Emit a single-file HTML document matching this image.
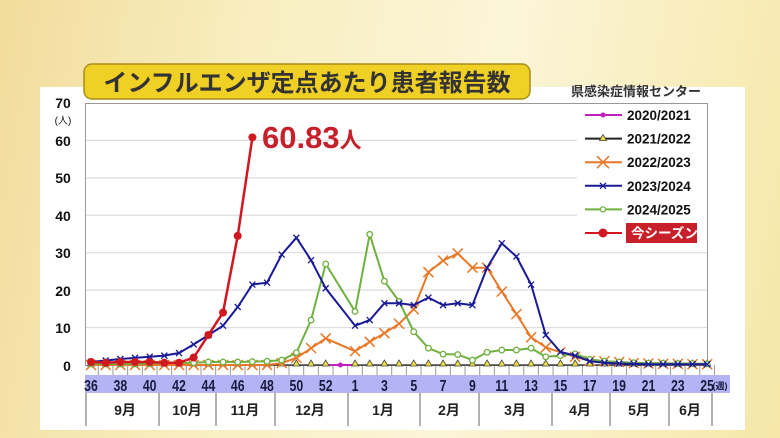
<!DOCTYPE html>
<html><head><meta charset="utf-8"><style>
html,body{margin:0;padding:0;width:780px;height:438px;overflow:hidden}
body{background:linear-gradient(100deg,#f2dc9c 0%,#f8eec0 30%,#fbf5d8 60%,#f6e7a8 100%);font-family:"Liberation Sans","Noto Sans CJK JP",sans-serif}
</style></head><body>
<svg width="780" height="438" viewBox="0 0 780 438" xmlns="http://www.w3.org/2000/svg" style="position:absolute;left:0;top:0" font-family="Liberation Sans, Noto Sans CJK JP, sans-serif">
<rect x="40" y="87" width="705" height="343" fill="#fff"/>
<g id="grid" stroke="#d8d8d8" stroke-width="1"></g>
<rect x="85.5" y="103.5" width="622" height="262" fill="none" stroke="#999"/>
<rect x="577" y="104" width="130" height="140" fill="#fff"/>
<g font-size="14" font-weight="bold" fill="#111" text-anchor="middle">
<text x="63" y="108">70</text><text x="63" y="124" font-size="10" font-weight="normal">(人)</text>
<text x="63" y="146">60</text><text x="63" y="183">50</text><text x="63" y="221">40</text>
<text x="63" y="258">30</text><text x="63" y="296">20</text><text x="63" y="333">10</text><text x="67" y="371">0</text>
</g>
<rect x="85" y="375" width="645" height="18" fill="#b4b4f4"/>
<g id="wk" font-size="15" font-weight="bold" fill="#1a1a40" text-anchor="middle"></g>
<g id="mon" stroke="#666" stroke-width="1"></g>
<g font-size="14" font-weight="bold" fill="#222" text-anchor="middle">
<text x="125" y="415">9月</text><text x="187" y="415">10月</text><text x="245" y="415">11月</text><text x="310" y="415">12月</text><text x="383" y="415">1月</text><text x="449" y="415">2月</text><text x="515" y="415">3月</text><text x="580" y="415">4月</text><text x="639" y="415">5月</text><text x="690" y="415">6月</text>
</g>
<g id="series"></g>
<rect x="84" y="64" width="446" height="35" rx="8" fill="#f0d024" stroke="#a88e18" stroke-width="1.5"/>
<text x="307" y="91" font-size="24" font-weight="bold" fill="#333" text-anchor="middle">インフルエンザ定点あたり患者報告数</text>
<text x="636" y="96" font-size="13" font-weight="bold" fill="#333" text-anchor="middle">県感染症情報センター</text>
<text x="262" y="148" font-size="31" font-weight="bold" fill="#c8202a">60.83<tspan font-size="22">人</tspan></text>
<g id="leg" font-size="13.5" font-weight="bold" fill="#111"></g>
</svg>
<script>
const NS="http://www.w3.org/2000/svg";
function el(p,t,a,txt){const e=document.createElementNS(NS,t);for(const k in a)e.setAttribute(k,a[k]);if(txt!==undefined)e.textContent=txt;document.getElementById(p).appendChild(e);return e;}
const X=i=>91+i*14.67, Y=v=>365-v*3.743;
for(let v=10;v<=60;v+=10)el("grid","line",{x1:86,x2:707,y1:Y(v),y2:Y(v)});
function wk(x,w){el("wk","text",{x:0,y:0,transform:`translate(${x},391) scale(0.82,1.05)`},w);}
[36,38,40,42,44,46,48,50,52].forEach((w,k)=>wk(X(k*2),w));
[1,3,5,7,9,11,13,15,17,19,21,23,25].forEach((w,k)=>wk(X(18+k*2),w));
el("wk","text",{x:720,y:389,"font-size":"9"},"(週)");
for(let i=0;i<=42;i++){el("mon","line",{x1:X(i)+7.3,x2:X(i)+7.3,y1:365,y2:375,stroke:"#999"});}
[86,159,216,275,348,420,479,552,610,669,712].forEach(x=>el("mon","line",{x1:x,x2:x,y1:393,y2:426}));
function idx(arrA,arrB){const p=[];arrA.forEach((v,i)=>p.push([i,v]));arrB.forEach((v,i)=>p.push([18+i,v]));return p;}
function pts(p){return p.map(q=>X(q[0]).toFixed(1)+","+Y(q[1]).toFixed(1)).join(" ");}
const tri=[];for(let i=0;i<=42;i++)if(i!=17)tri.push([i,0]);
el("series","line",{x1:X(0),x2:X(42),y1:Y(0),y2:Y(0),stroke:"#222","stroke-width":1.2});
el("series","line",{x1:X(16),x2:X(18),y1:Y(0),y2:Y(0),stroke:"#c020c0","stroke-width":2});
el("series","circle",{cx:X(17),cy:Y(0),r:2.5,fill:"#c020c0"});
tri.forEach(q=>el("series","polygon",{points:`${X(q[0])},${Y(0)-5} ${X(q[0])-3.5},${Y(0)+1} ${X(q[0])+3.5},${Y(0)+1}`,fill:"#f0e040",stroke:"#444","stroke-width":0.8}));
const or=idx([0,0,0,0,0,0,0,0,0,0,0,0,0,0.5,1.9,4.5,7.1],[3.7,6.2,8.5,11,14.9,24.8,27.9,29.8,26,26,19.6,13.6,7.4,4.7,3.4,2.2,1.1,1,0.8,0.5,0.4,0.3,0.3,0.2,0.2]);
el("series","polyline",{points:pts(or),fill:"none",stroke:"#e87828","stroke-width":2});
or.forEach(q=>{const x=X(q[0]),y=Y(q[1]);el("series","path",{d:`M${x-5},${y-5}L${x+5},${y+5}M${x-5},${y+5}L${x+5},${y-5}`,stroke:"#e87828","stroke-width":1.5});});
const gr=idx([0.3,0.3,0.3,0.3,0.4,0.5,0.5,0.6,0.8,0.8,0.8,0.9,1,1.3,3.3,12,27],[14.3,34.9,22.4,17,8.9,4.5,2.9,2.8,1.3,3.4,4,4,4.5,2.2,2.5,3,1.5,1,0.8,0.6,0.5,0.5,0.4,0.4,0.3]);
el("series","polyline",{points:pts(gr),fill:"none",stroke:"#70b040","stroke-width":2});
gr.forEach(q=>el("series","circle",{cx:X(q[0]),cy:Y(q[1]),r:2.8,fill:"#fff",stroke:"#70b040","stroke-width":1.3}));
const bl=idx([0.8,1.2,1.6,1.9,2.2,2.5,3.2,5.5,8,10.5,15.5,21.5,22,29.5,34,28,20.5],[10.5,12,16.5,16.5,16,18,16,16.5,16,26,32.5,29,21.5,8,3.5,2.5,1,0.6,0.4,0.3,0.2,0.2,0.2,0.2,0.2]);
el("series","polyline",{points:pts(bl),fill:"none",stroke:"#1a1a98","stroke-width":2});
bl.forEach(q=>{const x=X(q[0]),y=Y(q[1]);el("series","path",{d:`M${x-3},${y-3}L${x+3},${y+3}M${x-3},${y+3}L${x+3},${y-3}`,stroke:"#1a1a98","stroke-width":1.3});});
const rd=[0.8,0.6,0.8,0.8,0.8,0.6,0.6,2,8,14,34.5,60.83].map((v,i)=>[i,v]);
el("series","polyline",{points:pts(rd),fill:"none",stroke:"#d01820","stroke-width":2.5});
rd.forEach(q=>el("series","circle",{cx:X(q[0]),cy:Y(q[1]),r:4,fill:"#d01820"}));
const L=[["2020/2021","#c020c0","dot"],["2021/2022","#222","tri"],["2022/2023","#e87828","x"],["2023/2024","#1a1a98","sx"],["2024/2025","#70b040","o"],["今シーズン","#d01820","big"]];
L.forEach((l,k)=>{const y=115+k*23.6;el("leg","line",{x1:585,x2:622,y1:y,y2:y,stroke:l[1],"stroke-width":2});const cx=603;
if(l[2]=="dot")el("leg","circle",{cx,cy:y,r:2.5,fill:l[1]});
if(l[2]=="tri")el("leg","polygon",{points:`${cx},${y-4} ${cx-3.5},${y+2} ${cx+3.5},${y+2}`,fill:"#f0e040",stroke:"#444","stroke-width":0.8});
if(l[2]=="x")el("leg","path",{d:`M${cx-6},${y-6}L${cx+6},${y+6}M${cx-6},${y+6}L${cx+6},${y-6}`,stroke:l[1],"stroke-width":1.5});
if(l[2]=="sx")el("leg","path",{d:`M${cx-3},${y-3}L${cx+3},${y+3}M${cx-3},${y+3}L${cx+3},${y-3}`,stroke:l[1],"stroke-width":1.3});
if(l[2]=="o")el("leg","circle",{cx,cy:y,r:2.5,fill:"#fff",stroke:l[1],"stroke-width":1.3});
if(l[2]=="big"){el("leg","circle",{cx,cy:y,r:4.5,fill:l[1]});el("leg","rect",{x:626,y:y-10,width:71,height:20,fill:"#c8202a"});el("leg","text",{x:631,y:y+5,fill:"#fff"},l[0]);}
else el("leg","text",{x:627,y:y+5},l[0]);});
</script>
</body></html>
